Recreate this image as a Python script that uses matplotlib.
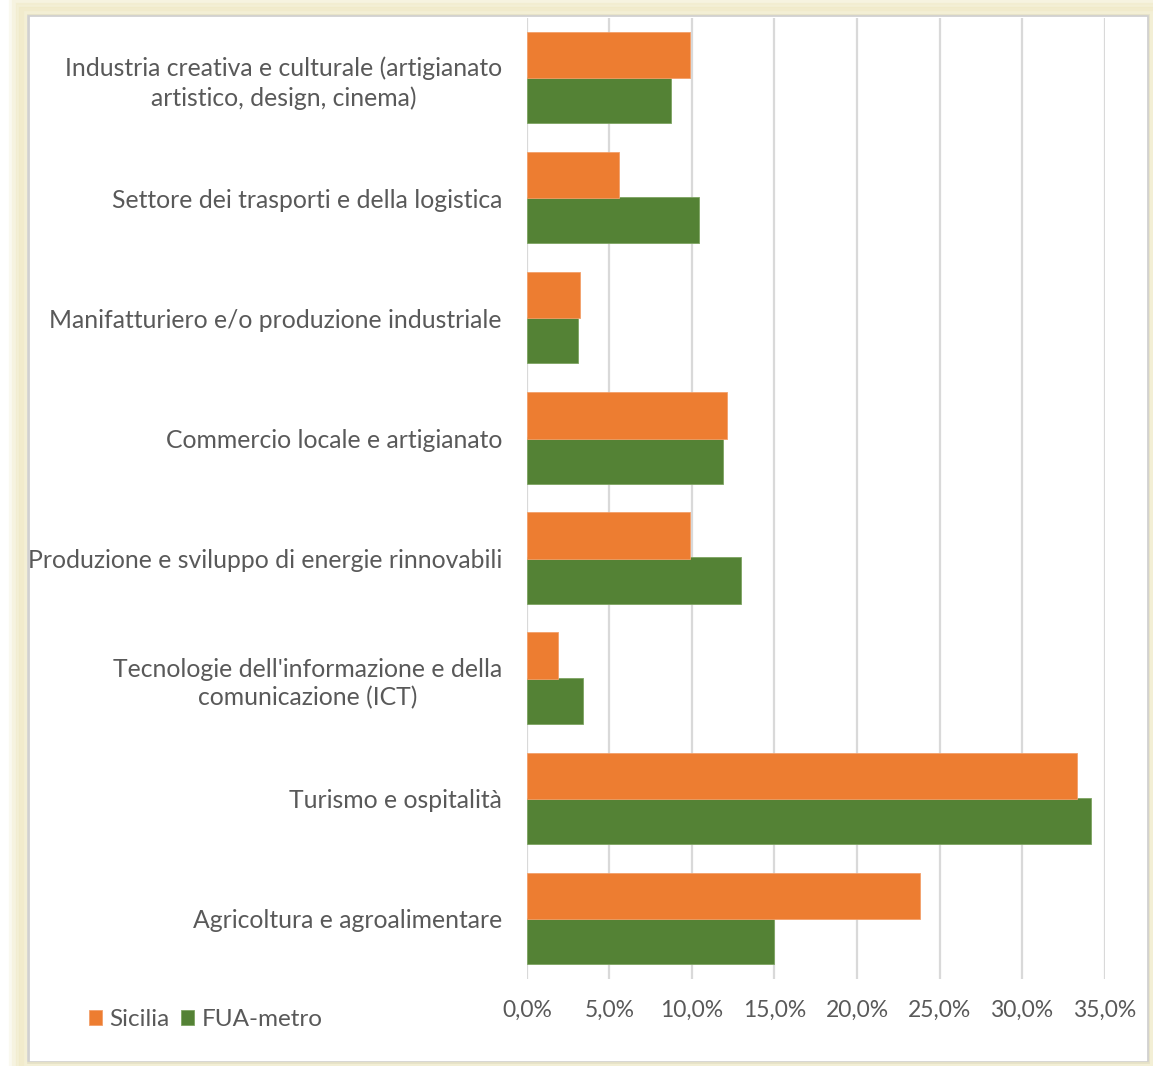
import matplotlib
matplotlib.use("Agg")
import matplotlib.pyplot as plt
from matplotlib.patches import Rectangle
from matplotlib.ticker import FuncFormatter
import numpy as np

# Settori (dall'alto verso il basso)
categories = [
    "Industria creativa e culturale (artigianato\nartistico, design, cinema)",
    "Settore dei trasporti e della logistica",
    "Manifatturiero e/o produzione industriale",
    "Commercio locale e artigianato",
    "Produzione e sviluppo di energie rinnovabili",
    "Tecnologie dell'informazione e della\ncomunicazione (ICT)",
    "Turismo e ospitalità",
    "Agricoltura e agroalimentare",
]
sicilia = [0.099, 0.056, 0.032, 0.121, 0.099, 0.019, 0.333, 0.238]
fua_metro = [0.087, 0.104, 0.031, 0.119, 0.130, 0.034, 0.342, 0.150]
x_ticks = [0, 0.05, 0.10, 0.15, 0.20, 0.25, 0.30, 0.35]

plt.rcParams['font.family'] = ['Lato', 'DejaVu Sans']
text_color = "#595959"

fig = plt.figure(figsize=(11.53, 10.66), dpi=100)
fig.patch.set_facecolor("white")

# Cornice con alone giallo chiaro
for i, a in enumerate([0.25, 0.35, 0.5, 0.7]):
    pad = 0.013 - i * 0.003
    fig.add_artist(Rectangle((0.024 - pad, 0.004 - pad), 0.972 + 2 * pad, 0.982 + 2 * pad,
                             transform=fig.transFigure, facecolor="none",
                             edgecolor="#efe9c4", lw=6, alpha=a))
fig.add_artist(Rectangle((0.024, 0.004), 0.972, 0.982, transform=fig.transFigure,
                         facecolor="white", edgecolor="#d0d0d0", lw=2, zorder=0.5))

ax = fig.add_axes([0.457, 0.0816, 0.501, 0.9014])
ax.set_zorder(2)
ax.patch.set_alpha(0)

y = np.arange(len(categories))
h = 0.385
ax.barh(y - h / 2, sicilia, height=h, color="#ED7D31", edgecolor="#f3a06a",
        linewidth=0.6, zorder=3, label="Sicilia")
ax.barh(y + h / 2 - 0.01, fua_metro, height=h, color="#548235", edgecolor="#7da462",
        linewidth=0.6, zorder=2, label="FUA-metro")

ax.set_ylim(len(categories) - 0.5, -0.5)
ax.set_xlim(0, 0.35)
ax.set_yticks(y)
ax.set_yticklabels(categories, fontsize=17.8, color=text_color,
                   multialignment="center", linespacing=1.3)
ax.set_xticks(x_ticks)
ax.xaxis.set_major_formatter(FuncFormatter(lambda v, p: f"{v*100:.1f}%".replace(".", ",")))
ax.tick_params(axis="x", labelsize=16.5, colors=text_color, length=0, pad=15)
ax.tick_params(axis="y", length=0, pad=18)
ax.grid(axis="x", color="#d9d9d9", linewidth=1.6, zorder=0)
ax.set_axisbelow(True)
for s in ax.spines.values():
    s.set_visible(False)

leg = fig.legend(loc="lower left", bbox_to_anchor=(0.058, 0.013), ncol=2, frameon=False,
                 fontsize=17.5, handlelength=0.55, handleheight=0.55, handletextpad=0.3,
                 columnspacing=0.45)
for t in leg.get_texts():
    t.set_color(text_color)

fig.savefig("out.png", dpi=100, facecolor=fig.get_facecolor())
